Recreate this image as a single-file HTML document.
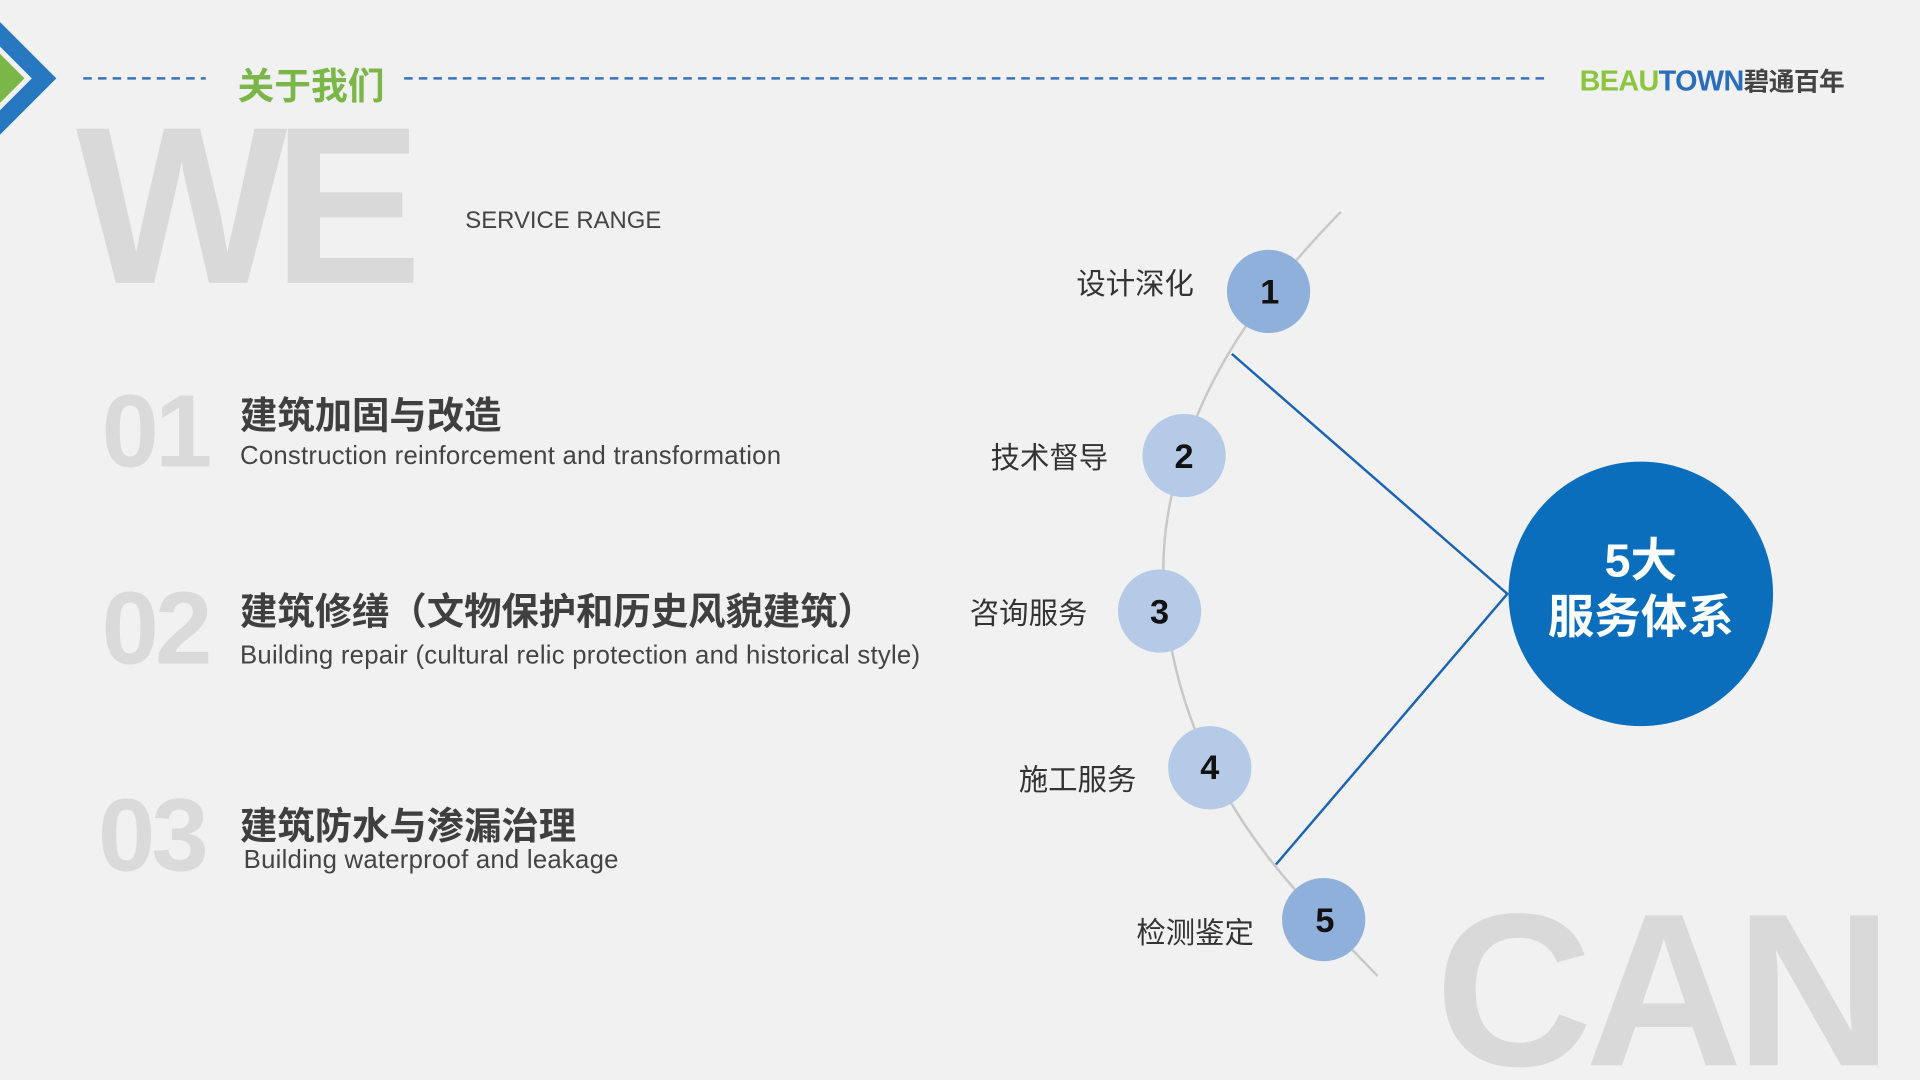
<!DOCTYPE html>
<html><head><meta charset="utf-8"><style>
html,body{margin:0;padding:0;width:1920px;height:1080px;overflow:hidden;background:#f1f1f1}
#w{position:absolute;left:0;top:0;width:1568px;height:882px;overflow:hidden;transform:scale(1.22449);transform-origin:0 0;font-family:"Liberation Sans","Noto Sans CJK SC",sans-serif}
.a{position:absolute;white-space:nowrap}
.big{font-weight:bold;color:#d9d9d9}
.num{font-weight:bold;color:#dadada;font-size:84px;letter-spacing:-3px}
.zh{font-weight:bold;color:#3f3f3f;font-size:30.5px}
.en{color:#444;font-size:21px;letter-spacing:0.2px}
.lab{color:#333;font-size:24px}
</style></head><body><div id="w">
<svg class="a" style="left:0;top:0" width="1568" height="882">
<polygon points="0,18 46,64 0,110 0,90 26,64 0,38" fill="#2878c1"/>
<polygon points="0,44 20,64 0,84" fill="#7ab648"/>
<line x1="68" y1="64" x2="168" y2="64" stroke="#3b72b8" stroke-width="2" stroke-dasharray="7,5"/>
<line x1="330" y1="64" x2="1262" y2="64" stroke="#3b72b8" stroke-width="2" stroke-dasharray="7,5"/>
<path d="M1095,173 Q1000,270 970,360 Q940,440 955,520 Q975,640 1070,740 L1125,797" fill="none" stroke="#c8c8c8" stroke-width="2"/>
<polyline points="1006,289 1231,485 1042,706" fill="none" stroke="#1a63b4" stroke-width="2"/>
<circle cx="1036" cy="238" r="34" fill="#8fb0da"/>
<circle cx="967" cy="372" r="34" fill="#b4cae6"/>
<circle cx="947" cy="499" r="34" fill="#b4cae6"/>
<circle cx="988" cy="627" r="34" fill="#b4cae6"/>
<circle cx="1081" cy="751" r="34" fill="#8fb0da"/>
<circle cx="1340" cy="485" r="108" fill="#0a6ebd"/>
<g font-family="Liberation Sans" font-weight="bold" font-size="28" fill="#111" text-anchor="middle">
<text x="1037" y="248">1</text><text x="967" y="382">2</text><text x="947" y="509">3</text><text x="988" y="636">4</text><text x="1082" y="761">5</text></g>
</svg>
<div class="a big" style="left:62px;top:76px;font-size:183px;letter-spacing:-12px;line-height:183px">WE</div>
<div class="a big" style="left:1172px;top:720px;font-size:178px;line-height:178px;letter-spacing:-6px">CAN</div>
<div class="a" style="left:194px;top:46px;font-size:30px;font-weight:bold;color:#7ab648">关于我们</div>
<div class="a" style="left:1290px;top:51px;font-size:23.5px;font-weight:bold;letter-spacing:-0.5px"><span style="color:#8cc63f">BEAU</span><span style="color:#2a6ebb">TOWN</span><span style="color:#444;font-size:21px">碧通百年</span></div>
<div class="a" style="left:380px;top:169px;font-size:19.5px;color:#444">SERVICE RANGE</div>
<div class="a num" style="left:83px;top:304px">01</div>
<div class="a num" style="left:83px;top:465px">02</div>
<div class="a num" style="left:80px;top:634px">03</div>
<div class="a zh" style="left:196px;top:315px">建筑加固与改造</div>
<div class="a en" style="left:196px;top:361px">Construction reinforcement and transformation</div>
<div class="a zh" style="left:196px;top:475px">建筑修缮（文物保护和历史风貌建筑）</div>
<div class="a en" style="left:196px;top:524px">Building repair (cultural relic protection and historical style)</div>
<div class="a zh" style="left:196px;top:650px">建筑防水与渗漏治理</div>
<div class="a en" style="left:199px;top:691px">Building waterproof and leakage</div>
<div class="a lab" style="left:879px;top:212px">设计深化</div>
<div class="a lab" style="left:809px;top:354px">技术督导</div>
<div class="a lab" style="left:792px;top:481px">咨询服务</div>
<div class="a lab" style="left:832px;top:617px">施工服务</div>
<div class="a lab" style="left:928px;top:742px">检测鉴定</div>
<div class="a" style="left:1232px;top:436px;width:216px;text-align:center;color:#fff;font-weight:bold;font-size:38px;line-height:46px">5大<br>服务体系</div>
</div></body></html>
